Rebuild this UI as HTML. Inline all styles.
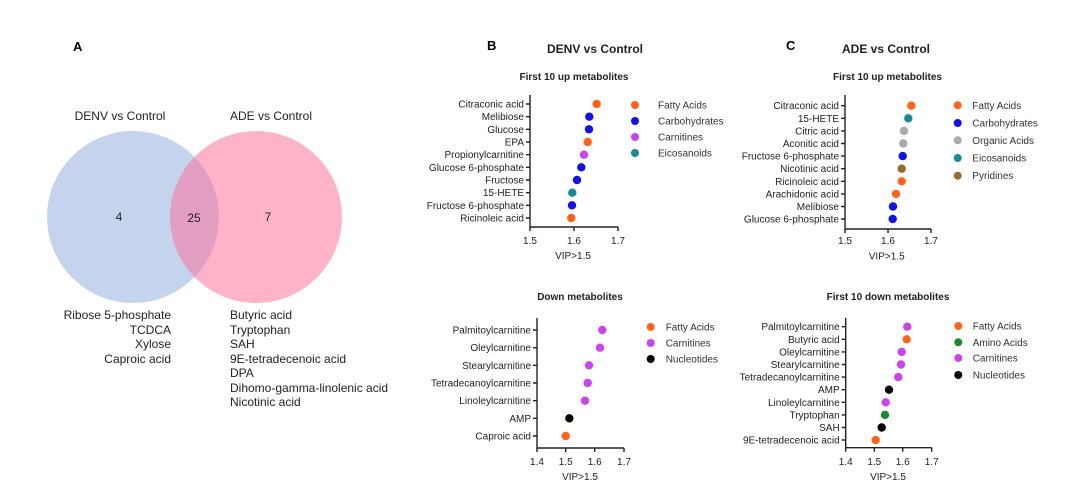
<!DOCTYPE html>
<html><head><meta charset="utf-8"><style>
html,body{margin:0;padding:0;background:#fff;}
svg{display:block;font-family:"Liberation Sans",Arial,sans-serif;}
</style></head><body>
<svg width="1080" height="495" viewBox="0 0 1080 495" xmlns="http://www.w3.org/2000/svg">
<!-- Panel A -->
<text x="73" y="51" font-size="13" font-weight="bold">A</text>
<text x="120" y="120" font-size="12" text-anchor="middle" fill="#222">DENV vs Control</text>
<text x="271" y="120" font-size="12" text-anchor="middle" fill="#222">ADE vs Control</text>
<circle cx="133" cy="217" r="86" fill="#c5d4ed"/>
<circle cx="256" cy="217" r="86" fill="#ffb3c9"/>
<clipPath id="cb"><circle cx="133" cy="217" r="86"/></clipPath>
<circle cx="256" cy="217" r="86" fill="#e39fc2" clip-path="url(#cb)"/>
<text x="119" y="221" font-size="12" text-anchor="middle" fill="#222">4</text>
<text x="194" y="222" font-size="12" text-anchor="middle" fill="#222">25</text>
<text x="268" y="221" font-size="12" text-anchor="middle" fill="#222">7</text>
<g font-size="12" fill="#222" text-anchor="end">
<text x="171" y="319">Ribose 5-phosphate</text>
<text x="171" y="334">TCDCA</text>
<text x="171" y="348">Xylose</text>
<text x="171" y="363">Caproic acid</text>
</g>
<g font-size="12" fill="#222">
<text x="230" y="319">Butyric acid</text>
<text x="230" y="334">Tryptophan</text>
<text x="230" y="348">SAH</text>
<text x="230" y="363">9E-tetradecenoic acid</text>
<text x="230" y="377">DPA</text>
<text x="230" y="392">Dihomo-gamma-linolenic acid</text>
<text x="230" y="406">Nicotinic acid</text>
</g>

<!-- Panel B -->
<text x="487" y="50" font-size="13" font-weight="bold">B</text>
<text x="595" y="53" font-size="12" font-weight="bold" text-anchor="middle" fill="#222">DENV vs Control</text>
<text x="574" y="80" font-size="10" font-weight="bold" text-anchor="middle" fill="#222">First 10 up metabolites</text>
<g stroke="#222" stroke-width="1.4" fill="none">
<path d="M530 95 V227 H618"/>
<path d="M530 227 v4 M574 227 v4 M618 227 v4"/>
<path d="M526 104 h4 M526 116.7 h4 M526 129.3 h4 M526 142 h4 M526 154.7 h4 M526 167.3 h4 M526 180 h4 M526 192.7 h4 M526 205.3 h4 M526 218 h4"/>
</g>
<g font-size="10" fill="#222" text-anchor="end">
<text x="524" y="107.5">Citraconic acid</text>
<text x="524" y="120.2">Melibiose</text>
<text x="524" y="132.8">Glucose</text>
<text x="524" y="145.5">EPA</text>
<text x="524" y="158.2">Propionylcarnitine</text>
<text x="524" y="170.8">Glucose 6-phosphate</text>
<text x="524" y="183.5">Fructose</text>
<text x="524" y="196.2">15-HETE</text>
<text x="524" y="208.8">Fructose 6-phosphate</text>
<text x="524" y="221.5">Ricinoleic acid</text>
</g>
<g font-size="10" fill="#222" text-anchor="middle">
<text x="530" y="244">1.5</text><text x="574" y="244">1.6</text><text x="618" y="244">1.7</text>
<text x="573" y="259">VIP&gt;1.5</text>
</g>
<g>
<circle cx="596.7" cy="104" r="4.2" fill="#ff6419"/>
<circle cx="589.3" cy="116.7" r="4.2" fill="#1111ee"/>
<circle cx="589" cy="129.3" r="4.2" fill="#1111ee"/>
<circle cx="587.7" cy="142" r="4.2" fill="#ff6419"/>
<circle cx="584" cy="154.7" r="4.2" fill="#cc44ee"/>
<circle cx="581.3" cy="167.3" r="4.2" fill="#1111ee"/>
<circle cx="577" cy="180" r="4.2" fill="#1111ee"/>
<circle cx="572.3" cy="192.7" r="4.2" fill="#138c98"/>
<circle cx="572" cy="205.3" r="4.2" fill="#1111ee"/>
<circle cx="571.3" cy="218" r="4.2" fill="#ff6419"/>
</g>
<g font-size="10" fill="#333">
<circle cx="635" cy="105" r="4" fill="#ff6419"/><text x="658" y="108.5">Fatty Acids</text>
<circle cx="635" cy="121" r="4" fill="#1111ee"/><text x="658" y="124.5">Carbohydrates</text>
<circle cx="635" cy="137" r="4" fill="#cc44ee"/><text x="658" y="140.5">Carnitines</text>
<circle cx="635" cy="153" r="4" fill="#138c98"/><text x="658" y="156.5">Eicosanoids</text>
</g>

<!-- Panel B down -->
<text x="580" y="300" font-size="10" font-weight="bold" text-anchor="middle" fill="#222">Down metabolites</text>
<g stroke="#222" stroke-width="1.4" fill="none">
<path d="M537 318 V448 H624"/>
<path d="M537 448 v4 M565.7 448 v4 M594.7 448 v4 M624 448 v4"/>
<path d="M533 330 h4 M533 347.7 h4 M533 365.3 h4 M533 383 h4 M533 400.7 h4 M533 418.3 h4 M533 436 h4"/>
</g>
<g font-size="10" fill="#222" text-anchor="end">
<text x="531" y="333.5">Palmitoylcarnitine</text>
<text x="531" y="351.2">Oleylcarnitine</text>
<text x="531" y="368.8">Stearylcarnitine</text>
<text x="531" y="386.5">Tetradecanoylcarnitine</text>
<text x="531" y="404.2">Linoleylcarnitine</text>
<text x="531" y="421.8">AMP</text>
<text x="531" y="439.5">Caproic acid</text>
</g>
<g font-size="10" fill="#222" text-anchor="middle">
<text x="537" y="465">1.4</text><text x="565.7" y="465">1.5</text><text x="594.7" y="465">1.6</text><text x="624" y="465">1.7</text>
<text x="580" y="480">VIP&gt;1.5</text>
</g>
<g>
<circle cx="602.3" cy="330" r="4.2" fill="#cc44ee"/>
<circle cx="600" cy="347.7" r="4.2" fill="#cc44ee"/>
<circle cx="589" cy="365.3" r="4.2" fill="#cc44ee"/>
<circle cx="587.7" cy="383" r="4.2" fill="#cc44ee"/>
<circle cx="585" cy="400.7" r="4.2" fill="#cc44ee"/>
<circle cx="569.3" cy="418.3" r="4.2" fill="#000"/>
<circle cx="565.7" cy="436" r="4.2" fill="#ff6419"/>
</g>
<g font-size="10" fill="#333">
<circle cx="650.7" cy="327" r="4" fill="#ff6419"/><text x="665.7" y="330.5">Fatty Acids</text>
<circle cx="650.7" cy="343" r="4" fill="#cc44ee"/><text x="665.7" y="346.5">Carnitines</text>
<circle cx="650.7" cy="359" r="4" fill="#000"/><text x="665.7" y="362.5">Nucleotides</text>
</g>

<!-- Panel C up -->
<text x="786" y="50" font-size="13" font-weight="bold">C</text>
<text x="886" y="53" font-size="12" font-weight="bold" text-anchor="middle" fill="#222">ADE vs Control</text>
<text x="887.5" y="80" font-size="10" font-weight="bold" text-anchor="middle" fill="#222">First 10 up metabolites</text>
<g stroke="#222" stroke-width="1.4" fill="none">
<path d="M845 95 V229 H931"/>
<path d="M845 229 v4 M888 229 v4 M931 229 v4"/>
<path d="M841 105.7 h4 M841 118.3 h4 M841 130.9 h4 M841 143.5 h4 M841 156.1 h4 M841 168.7 h4 M841 181.3 h4 M841 193.9 h4 M841 206.5 h4 M841 219 h4"/>
</g>
<g font-size="10" fill="#222" text-anchor="end">
<text x="839" y="109.2">Citraconic acid</text>
<text x="839" y="121.8">15-HETE</text>
<text x="839" y="134.4">Citric acid</text>
<text x="839" y="147">Aconitic acid</text>
<text x="839" y="159.6">Fructose 6-phosphate</text>
<text x="839" y="172.2">Nicotinic acid</text>
<text x="839" y="184.8">Ricinoleic acid</text>
<text x="839" y="197.4">Arachidonic acid</text>
<text x="839" y="210">Melibiose</text>
<text x="839" y="222.5">Glucose 6-phosphate</text>
</g>
<g font-size="10" fill="#222" text-anchor="middle">
<text x="845" y="244">1.5</text><text x="888" y="244">1.6</text><text x="931" y="244">1.7</text>
<text x="886.7" y="259.5">VIP&gt;1.5</text>
</g>
<g>
<circle cx="911.3" cy="105.7" r="4.2" fill="#ff6419"/>
<circle cx="908.3" cy="118.3" r="4.2" fill="#138c98"/>
<circle cx="904" cy="130.9" r="4.2" fill="#aaaaaa"/>
<circle cx="903.3" cy="143.5" r="4.2" fill="#aaaaaa"/>
<circle cx="902.7" cy="156.1" r="4.2" fill="#1111ee"/>
<circle cx="901.7" cy="168.7" r="4.2" fill="#9a6a2a"/>
<circle cx="901.7" cy="181.3" r="4.2" fill="#ff6419"/>
<circle cx="896" cy="193.9" r="4.2" fill="#ff6419"/>
<circle cx="893" cy="206.5" r="4.2" fill="#1111ee"/>
<circle cx="892.7" cy="219" r="4.2" fill="#1111ee"/>
</g>
<g font-size="10" fill="#333">
<circle cx="957.7" cy="105.3" r="4" fill="#ff6419"/><text x="972.3" y="108.8">Fatty Acids</text>
<circle cx="957.7" cy="123" r="4" fill="#1111ee"/><text x="972.3" y="126.5">Carbohydrates</text>
<circle cx="957.7" cy="140.3" r="4" fill="#aaaaaa"/><text x="972.3" y="143.8">Organic Acids</text>
<circle cx="957.7" cy="158" r="4" fill="#138c98"/><text x="972.3" y="161.5">Eicosanoids</text>
<circle cx="957.7" cy="175.7" r="4" fill="#9a6a2a"/><text x="972.3" y="179.2">Pyridines</text>
</g>

<!-- Panel C down -->
<text x="888" y="300" font-size="10" font-weight="bold" text-anchor="middle" fill="#222">First 10 down metabolites</text>
<g stroke="#222" stroke-width="1.4" fill="none">
<path d="M845.7 317.7 V447.7 H931.7"/>
<path d="M845.7 447.7 v4 M874.3 447.7 v4 M902.7 447.7 v4 M931.7 447.7 v4"/>
<path d="M841.7 326.7 h4 M841.7 339.3 h4 M841.7 351.9 h4 M841.7 364.5 h4 M841.7 377.1 h4 M841.7 389.7 h4 M841.7 402.3 h4 M841.7 414.9 h4 M841.7 427.5 h4 M841.7 440 h4"/>
</g>
<g font-size="10" fill="#222" text-anchor="end">
<text x="839.7" y="330.2">Palmitoylcarnitine</text>
<text x="839.7" y="342.8">Butyric acid</text>
<text x="839.7" y="355.4">Oleylcarnitine</text>
<text x="839.7" y="368">Stearylcarnitine</text>
<text x="839.7" y="380.6">Tetradecanoylcarnitine</text>
<text x="839.7" y="393.2">AMP</text>
<text x="839.7" y="405.8">Linoleylcarnitine</text>
<text x="839.7" y="418.4">Tryptophan</text>
<text x="839.7" y="431">SAH</text>
<text x="839.7" y="443.5">9E-tetradecenoic acid</text>
</g>
<g font-size="10" fill="#222" text-anchor="middle">
<text x="845.7" y="465">1.4</text><text x="874.3" y="465">1.5</text><text x="902.7" y="465">1.6</text><text x="931.7" y="465">1.7</text>
<text x="888" y="480">VIP&gt;1.5</text>
</g>
<g>
<circle cx="907.3" cy="326.7" r="4.2" fill="#cc44ee"/>
<circle cx="906.7" cy="339.3" r="4.2" fill="#ff6419"/>
<circle cx="901.7" cy="351.9" r="4.2" fill="#cc44ee"/>
<circle cx="901" cy="364.5" r="4.2" fill="#cc44ee"/>
<circle cx="898.3" cy="377.1" r="4.2" fill="#cc44ee"/>
<circle cx="889" cy="389.7" r="4.2" fill="#000"/>
<circle cx="885.7" cy="402.3" r="4.2" fill="#cc44ee"/>
<circle cx="885" cy="414.9" r="4.2" fill="#1a8a2a"/>
<circle cx="881.7" cy="427.5" r="4.2" fill="#000"/>
<circle cx="875.7" cy="440" r="4.2" fill="#ff6419"/>
</g>
<g font-size="10" fill="#333">
<circle cx="958.3" cy="326" r="4" fill="#ff6419"/><text x="972.7" y="329.5">Fatty Acids</text>
<circle cx="958.3" cy="342.3" r="4" fill="#1a8a2a"/><text x="972.7" y="345.8">Amino Acids</text>
<circle cx="958.3" cy="358" r="4" fill="#cc44ee"/><text x="972.7" y="361.5">Carnitines</text>
<circle cx="958.3" cy="375" r="4" fill="#000"/><text x="972.7" y="378.5">Nucleotides</text>
</g>
</svg>
</body></html>
